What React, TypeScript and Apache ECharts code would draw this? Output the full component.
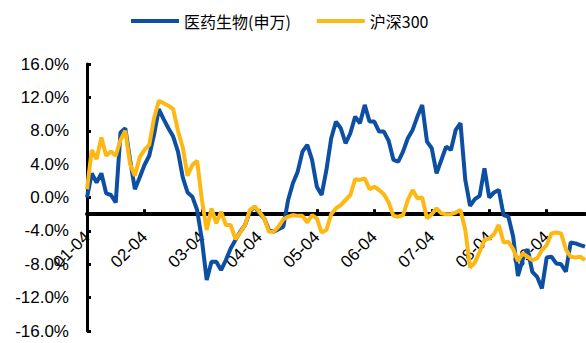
import React, { useEffect, useRef } from "react";
import * as echarts from "echarts";

const seriesNames = ["医药生物(申万)", "沪深300"];
const monthLabels = ["01-04", "02-04", "03-04", "04-04", "05-04", "06-04", "07-04", "08-04", "09-04"];
const labelStep = 12;

const pharma = [
  0.0, 2.9, 1.8, 2.9, 0.5, 0.3, -0.6, 7.8, 8.3, 4.5,
  1.0, 2.4, 3.9, 5.0, 7.5, 10.6, 9.4, 8.3, 7.3, 5.5,
  2.4, 0.6, 0.1, -1.5, -5.1, -9.9, -7.7, -7.7, -8.7, -7.5,
  -6.1, -5.1, -4.1, -3.3, -1.7, -1.1, -1.9, -2.5, -3.9, -4.1,
  -3.8, -3.5, -0.3, 1.7, 3.1, 5.5, 6.3, 4.5, 1.3, 0.3,
  3.3, 7.1, 9.1, 8.3, 6.5, 7.7, 9.7, 8.9, 11.1, 9.1,
  9.1, 7.9, 7.9, 6.8, 4.5, 4.3, 5.5, 7.1, 8.1, 9.7,
  11.1, 6.7, 5.9, 2.9, 4.5, 6.1, 5.7, 8.1, 8.9, 2.1,
  -1.0, -0.2, 0.2, 3.5, 0.0, 0.6, 0.9, -2.1, -2.3, -4.7,
  -9.4, -7.4, -6.2, -8.9, -9.5, -10.9, -7.2, -7.1, -7.9, -8.0,
  -8.9, -5.4, -5.5, -5.7, -5.9,
];

const csi300 = [
  1.0, 5.7, 4.6, 7.2, 5.0, 5.5, 5.0, 6.9, 8.0, 4.0,
  2.6, 4.8, 5.7, 6.3, 9.5, 11.6, 11.3, 11.0, 10.6, 8.0,
  6.0, 2.6, 3.9, 4.4, -0.3, -3.9, -1.3, -3.1, -1.7, -3.3,
  -3.3, -5.0, -4.2, -3.3, -1.5, -1.1, -1.7, -2.5, -4.1, -4.1,
  -3.5, -2.6, -2.3, -2.1, -2.2, -2.2, -3.0, -2.1, -2.5, -4.2,
  -3.9, -2.0, -1.3, -0.9, -0.3, 0.3, 2.2, 2.1, 2.3, 1.0,
  1.3, 0.9, 0.4, -0.6, -2.2, -2.3, -2.1, -0.3, 0.9, -0.1,
  0.0, -2.5, -2.0, -1.3, -1.9, -2.0, -2.0, -1.8, -1.5, -3.9,
  -8.4, -7.8, -6.5, -5.1, -4.9, -4.4, -3.3, -5.4, -5.3, -6.2,
  -7.6, -6.7, -7.1, -7.5, -7.3, -6.3, -5.7, -4.3, -4.2, -4.3,
  -6.2, -7.1, -7.2, -7.1, -7.5,
];

const categories = pharma.map((_, i) => String(i));

const BLUE = "#0D4FA3";
const YELLOW = "#FDB813";
const FONT = "'Liberation Sans', Arial, sans-serif";

export default function App() {
  const ref = useRef<HTMLDivElement>(null);

  useEffect(() => {
    if (!ref.current) return;
    const chart = echarts.init(ref.current, undefined, { renderer: "svg" });
    const yMin = -16;
    const yMax = 16;
    const gridTop = 64;
    const gridBottom = 12;
    const plotH = 343 - gridTop - gridBottom;
    const crossAt = -2;
    const axisOffset = -((crossAt - yMin) / (yMax - yMin)) * plotH;

    chart.setOption({
      animation: false,
      backgroundColor: "#fff",
      legend: {
        top: 8,
        left: 126,
        itemWidth: 48,
        itemHeight: 4,
        itemGap: 26,
        icon: "rect",
        textStyle: { fontSize: 16, color: "#000", fontFamily: "'Noto Sans CJK SC', sans-serif" },
        data: seriesNames,
      },
      grid: { left: 87, right: 1, top: gridTop, bottom: gridBottom, containLabel: false },
      xAxis: {
        type: "category",
        data: categories,
        boundaryGap: false,
        offset: axisOffset,
        axisLine: { onZero: false, lineStyle: { color: "#000", width: 4 } },
        axisTick: {
          inside: true,
          length: 5,
          lineStyle: { color: "#000", width: 3 },
          interval: (i: number) => i % labelStep === 0,
        },
        axisLabel: {
          rotate: 45,
          margin: 20,
          fontSize: 17,
          color: "#000",
          fontFamily: FONT,
          interval: (i: number) => i % labelStep === 0,
          formatter: (_v: string, i: number) => monthLabels[i / labelStep] ?? "",
        },
        splitLine: { show: false },
      },
      yAxis: {
        type: "value",
        min: yMin,
        max: yMax,
        interval: 4,
        axisLine: { show: true, lineStyle: { color: "#000", width: 3 } },
        axisTick: { show: true, inside: true, length: 4, lineStyle: { color: "#000", width: 3 } },
        axisLabel: {
          margin: 18,
          fontSize: 17,
          color: "#000",
          fontFamily: FONT,
          formatter: (v: number) => v.toFixed(1) + "%",
        },
        splitLine: { show: false },
      },
      series: [
        {
          name: seriesNames[0],
          type: "line",
          data: pharma,
          showSymbol: false,
          symbol: "none",
          color: BLUE,
          lineStyle: { color: BLUE, width: 4 },
        },
        {
          name: seriesNames[1],
          type: "line",
          data: csi300,
          showSymbol: false,
          symbol: "none",
          color: YELLOW,
          lineStyle: { color: YELLOW, width: 4 },
        },
      ],
    });
    return () => chart.dispose();
  }, []);

  return (
    <div
      ref={ref}
      style={{ position: "fixed", left: 0, top: 0, width: 586, height: 343, background: "#fff" }}
    />
  );
}
